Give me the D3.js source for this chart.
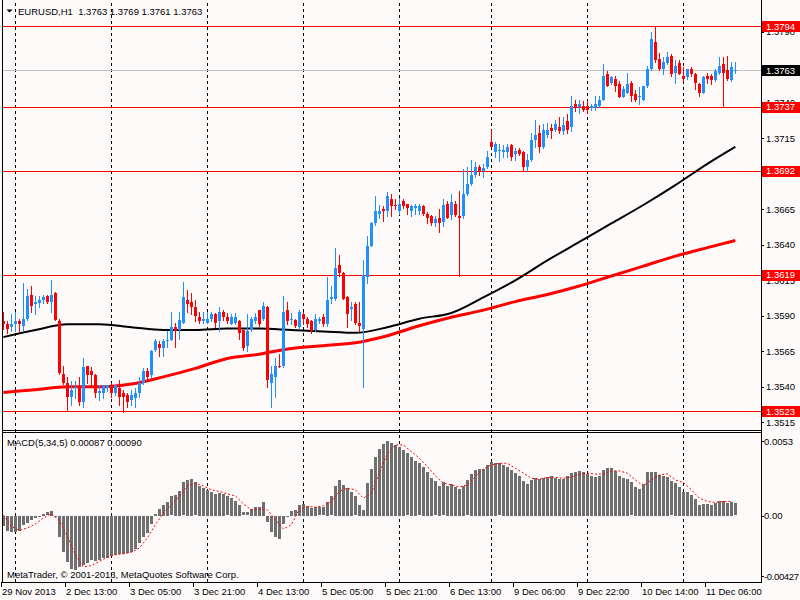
<!DOCTYPE html>
<html>
<head>
<meta charset="utf-8">
<script src="https://cdn.jsdelivr.net/npm/d3@7"></script>
<style>
  body { margin: 0; background: #fffafa; }
  svg { display: block; font-family: "Liberation Sans", Arial, sans-serif; font-size: 9.5px; }
</style>
</head>
<body>
<svg id="chart" width="800" height="600"></svg>
<script>
// EURUSD H1, 29 Nov 2013 21:00 .. 11 Dec 2013 13:00 (184 bars)
var opens = [1.3586,1.3584,1.3582,1.3584,1.3586,1.3583,1.3588,1.3605,1.3598,1.3599,
  1.3601,1.3604,1.3600,1.3606,1.3586,1.3549,1.3543,1.3533,1.3539,1.3539,
  1.3529,1.3555,1.3551,1.3548,1.3536,1.3536,1.3539,1.3541,1.3536,1.3539,
  1.3536,1.3534,1.3531,1.3532,1.3536,1.3543,1.3551,1.3548,1.3566,1.3570,
  1.3567,1.3572,1.3573,1.3582,1.3580,1.3585,1.3601,1.3600,1.3596,1.3589,
  1.3586,1.3585,1.3588,1.3591,1.3586,1.3593,1.3589,1.3584,1.3585,1.3586,
  1.3580,1.3569,1.3580,1.3586,1.3594,1.3588,1.3596,1.3543,1.3547,1.3555,
  1.3555,1.3594,1.3587,1.3587,1.3582,1.3591,1.3588,1.3586,1.3580,1.3586,
  1.3589,1.3584,1.3602,1.3602,1.3626,1.3620,1.3603,1.3595,1.3598,1.3585,
  1.3581,1.3617,1.3639,1.3655,1.3662,1.3665,1.3664,1.3672,1.3668,1.3664,
  1.3671,1.3669,1.3664,1.3666,1.3664,1.3667,1.3662,1.3660,1.3655,1.3659,
  1.3656,1.3669,1.3661,1.3669,1.3660,1.3660,1.3676,1.3683,1.3689,1.3695,
  1.3692,1.3695,1.3712,1.3705,1.3706,1.3705,1.3705,1.3710,1.3704,1.3707,
  1.3705,1.3695,1.3700,1.3714,1.3719,1.3709,1.3717,1.3722,1.3721,1.3723,
  1.3720,1.3727,1.3723,1.3739,1.3737,1.3738,1.3738,1.3736,1.3736,1.3738,
  1.3742,1.3760,1.3754,1.3757,1.3753,1.3744,1.3747,1.3754,1.3746,1.3744,
  1.3742,1.3752,1.3764,1.3783,1.3771,1.3764,1.3768,1.3773,1.3761,1.3768,
  1.3759,1.3758,1.3764,1.3760,1.3753,1.3747,1.3759,1.3759,1.3756,1.3761,
  1.3767,1.3763,1.3756,1.3763];
var highs = [1.3593,1.3586,1.3591,1.3593,1.3588,1.3613,1.3609,1.3611,1.3604,1.3604,
  1.3605,1.3605,1.3615,1.3607,1.3588,1.3555,1.3547,1.3544,1.3544,1.3547,
  1.3560,1.3555,1.3554,1.3549,1.3541,1.3541,1.3541,1.3543,1.3541,1.3545,
  1.3538,1.3536,1.3538,1.3539,1.3547,1.3553,1.3553,1.3566,1.3574,1.3572,
  1.3574,1.3579,1.3593,1.3585,1.3593,1.3614,1.3608,1.3606,1.3601,1.3593,
  1.3593,1.3593,1.3593,1.3592,1.3596,1.3594,1.3592,1.3591,1.3592,1.3587,
  1.3580,1.3591,1.3589,1.3592,1.3594,1.3600,1.3597,1.3555,1.3560,1.3563,
  1.3604,1.3600,1.3592,1.3588,1.3594,1.3593,1.3589,1.3587,1.3591,1.3589,
  1.3591,1.3617,1.3611,1.3638,1.3633,1.3621,1.3604,1.3600,1.3600,1.3600,
  1.3629,1.3646,1.3656,1.3674,1.3668,1.3667,1.3677,1.3676,1.3672,1.3673,
  1.3672,1.3669,1.3668,1.3669,1.3669,1.3668,1.3663,1.3661,1.3660,1.3665,
  1.3672,1.3671,1.3676,1.3671,1.3678,1.3693,1.3695,1.3700,1.3698,1.3696,
  1.3697,1.3706,1.3721,1.3712,1.3711,1.3710,1.3711,1.3711,1.3708,1.3708,
  1.3706,1.3704,1.3719,1.3728,1.3724,1.3725,1.3726,1.3725,1.3728,1.3730,
  1.3730,1.3732,1.3745,1.3742,1.3742,1.3741,1.3741,1.3739,1.3745,1.3745,
  1.3767,1.3762,1.3759,1.3759,1.3755,1.3752,1.3761,1.3755,1.3749,1.3751,
  1.3752,1.3766,1.3790,1.3794,1.3775,1.3772,1.3776,1.3774,1.3770,1.3770,
  1.3765,1.3764,1.3765,1.3761,1.3754,1.3759,1.3761,1.3760,1.3764,1.3772,
  1.3772,1.3773,1.3769,1.3769];
var lows = [1.3581,1.3578,1.3579,1.3579,1.3579,1.3580,1.3587,1.3593,1.3591,1.3596,
  1.3599,1.3599,1.3593,1.3587,1.3549,1.3542,1.3524,1.3527,1.3532,1.3527,
  1.3526,1.3543,1.3540,1.3533,1.3531,1.3532,1.3537,1.3533,1.3534,1.3527,
  1.3522,1.3526,1.3527,1.3526,1.3533,1.3542,1.3544,1.3546,1.3565,1.3562,
  1.3562,1.3568,1.3573,1.3568,1.3574,1.3585,1.3593,1.3591,1.3586,1.3585,
  1.3585,1.3585,1.3586,1.3582,1.3579,1.3587,1.3585,1.3584,1.3584,1.3574,
  1.3566,1.3565,1.3579,1.3585,1.3583,1.3587,1.3540,1.3526,1.3533,1.3554,
  1.3554,1.3584,1.3584,1.3582,1.3581,1.3584,1.3582,1.3578,1.3579,1.3585,
  1.3583,1.3583,1.3599,1.3601,1.3618,1.3602,1.3582,1.3587,1.3584,1.3579,
  1.3540,1.3613,1.3639,1.3654,1.3659,1.3657,1.3660,1.3660,1.3665,1.3662,
  1.3666,1.3662,1.3660,1.3662,1.3662,1.3661,1.3655,1.3654,1.3653,1.3649,
  1.3653,1.3659,1.3658,1.3660,1.3618,1.3659,1.3675,1.3682,1.3688,1.3689,
  1.3688,1.3694,1.3709,1.3702,1.3699,1.3702,1.3702,1.3700,1.3700,1.3703,
  1.3692,1.3692,1.3699,1.3709,1.3705,1.3708,1.3716,1.3715,1.3720,1.3719,
  1.3718,1.3719,1.3720,1.3734,1.3733,1.3734,1.3733,1.3735,1.3735,1.3737,
  1.3742,1.3752,1.3753,1.3748,1.3744,1.3744,1.3747,1.3741,1.3741,1.3739,
  1.3742,1.3751,1.3763,1.3769,1.3763,1.3760,1.3767,1.3759,1.3754,1.3760,
  1.3755,1.3757,1.3759,1.3750,1.3745,1.3747,1.3754,1.3753,1.3755,1.3760,
  1.3737,1.3756,1.3755,1.3761];
var closes = [1.3584,1.3581,1.3584,1.3586,1.3584,1.3588,1.3604,1.3597,1.3600,1.3601,
  1.3603,1.3600,1.3605,1.3587,1.3550,1.3543,1.3533,1.3538,1.3540,1.3529,
  1.3554,1.3548,1.3548,1.3536,1.3537,1.3541,1.3541,1.3536,1.3541,1.3533,
  1.3533,1.3529,1.3534,1.3536,1.3543,1.3551,1.3547,1.3565,1.3572,1.3567,
  1.3572,1.3573,1.3582,1.3579,1.3587,1.3603,1.3598,1.3596,1.3590,1.3586,
  1.3588,1.3588,1.3591,1.3585,1.3593,1.3589,1.3586,1.3589,1.3589,1.3578,
  1.3567,1.3579,1.3588,1.3589,1.3584,1.3597,1.3545,1.3549,1.3555,1.3554,
  1.3593,1.3586,1.3588,1.3583,1.3593,1.3588,1.3584,1.3579,1.3588,1.3588,
  1.3584,1.3601,1.3603,1.3624,1.3620,1.3602,1.3591,1.3596,1.3585,1.3583,
  1.3619,1.3639,1.3655,1.3664,1.3664,1.3664,1.3674,1.3667,1.3667,1.3669,
  1.3667,1.3666,1.3667,1.3667,1.3667,1.3662,1.3659,1.3655,1.3658,1.3655,
  1.3668,1.3659,1.3670,1.3661,1.3659,1.3676,1.3683,1.3689,1.3695,1.3692,
  1.3694,1.3702,1.3709,1.3711,1.3707,1.3707,1.3709,1.3702,1.3706,1.3704,
  1.3695,1.3700,1.3714,1.3717,1.3709,1.3721,1.3721,1.3720,1.3725,1.3720,
  1.3724,1.3721,1.3738,1.3737,1.3739,1.3735,1.3735,1.3738,1.3739,1.3742,
  1.3759,1.3752,1.3758,1.3752,1.3744,1.3750,1.3753,1.3745,1.3742,1.3745,
  1.3752,1.3764,1.3785,1.3770,1.3764,1.3769,1.3772,1.3760,1.3766,1.3760,
  1.3757,1.3764,1.3760,1.3754,1.3747,1.3758,1.3757,1.3756,1.3762,1.3766,
  1.3761,1.3757,1.3765,1.3763];

// moving averages, read every 8 bars
var maBars = [0,8,16,24,32,40,48,56,64,72,80,88,96,104,112,120,128,136,144,152,160,168,176,183];
var maBlack = [1.3575,1.3580,1.3584,1.3584,1.3582,1.3580,1.3580,1.3581,1.3581,1.3580,1.3579,1.3578,
  1.3582,1.3588,1.3592,1.3603,1.3615,1.3629,1.3642,1.3655,1.3668,1.3682,1.3697,1.3709];
var maRed = [1.3536,1.3538,1.3540,1.3540,1.3542,1.3547,1.3553,1.3560,1.3563,1.3567,1.3569,1.3571,
  1.3576,1.3583,1.3589,1.3594,1.3600,1.3605,1.3611,1.3618,1.3625,1.3632,1.3638,1.3643];

// MACD(5,34,5) histogram, one per bar
var macd = [-0.00071,-0.00104,-0.00111,-0.00111,-0.00104,-0.00064,-0.00047,-0.00028,-0.00016,-0.00005,
  0.00014,0.00024,0.00033,-0.00009,-0.00146,-0.00252,-0.00323,-0.00377,-0.00382,-0.00358,
  -0.00346,-0.00330,-0.00311,-0.00318,-0.00311,-0.00299,-0.00295,-0.00287,-0.00276,-0.00271,
  -0.00269,-0.00264,-0.00252,-0.00236,-0.00193,-0.00151,-0.00123,-0.00057,0.00014,0.00047,
  0.00078,0.00101,0.00137,0.00148,0.00177,0.00236,0.00254,0.00259,0.00236,0.00212,
  0.00196,0.00184,0.00172,0.00153,0.00160,0.00153,0.00137,0.00125,0.00108,0.00078,
  0.00024,0.00024,0.00047,0.00061,0.00061,0.00101,-0.00040,-0.00111,-0.00146,-0.00160,
  -0.00057,-0.00005,0.00035,0.00042,0.00078,0.00085,0.00071,0.00054,0.00061,0.00059,
  0.00059,0.00101,0.00137,0.00212,0.00254,0.00219,0.00196,0.00172,0.00137,0.00078,
  0.00042,0.00231,0.00330,0.00419,0.00474,0.00509,0.00530,0.00518,0.00502,0.00490,
  0.00467,0.00443,0.00419,0.00391,0.00372,0.00344,0.00309,0.00266,0.00243,0.00212,
  0.00236,0.00212,0.00226,0.00207,0.00188,0.00212,0.00250,0.00295,0.00325,0.00332,
  0.00332,0.00360,0.00384,0.00377,0.00372,0.00360,0.00344,0.00325,0.00306,0.00283,
  0.00247,0.00226,0.00254,0.00266,0.00259,0.00266,0.00278,0.00283,0.00266,0.00259,
  0.00259,0.00283,0.00302,0.00313,0.00318,0.00313,0.00297,0.00283,0.00278,0.00283,
  0.00325,0.00337,0.00337,0.00320,0.00283,0.00266,0.00259,0.00236,0.00203,0.00188,
  0.00226,0.00309,0.00313,0.00313,0.00290,0.00283,0.00278,0.00243,0.00231,0.00203,
  0.00172,0.00172,0.00148,0.00120,0.00078,0.00085,0.00085,0.00078,0.00094,0.00108,
  0.00108,0.00090,0.00101,0.00087];
// signal line, read every 2 bars (bars 0,2,...,182)
var signal = [0.00007,-0.00075,-0.00104,-0.00087,-0.00059,-0.00016,0.00014,-0.00033,-0.00146,-0.00276,
  -0.00363,-0.00353,-0.00323,-0.00295,-0.00276,-0.00269,-0.00259,-0.00229,-0.00158,-0.00064,
  0.00019,0.00078,0.00137,0.00212,0.00231,0.00212,0.00184,0.00172,0.00155,0.00141,
  0.00085,0.00042,0.00047,0.00042,-0.00028,-0.00094,-0.00064,0.00047,0.00066,0.00061,
  0.00071,0.00101,0.00172,0.00196,0.00184,0.00125,0.00160,0.00302,0.00438,0.00502,
  0.00502,0.00455,0.00408,0.00349,0.00283,0.00231,0.00219,0.00203,0.00219,0.00278,
  0.00330,0.00360,0.00372,0.00372,0.00337,0.00302,0.00266,0.00259,0.00271,0.00273,
  0.00266,0.00273,0.00295,0.00302,0.00295,0.00295,0.00318,0.00318,0.00302,0.00254,
  0.00212,0.00254,0.00290,0.00297,0.00254,0.00236,0.00184,0.00125,0.00101,0.00094,
  0.00101,0.00101];

var levels = [1.3794, 1.3737, 1.3692, 1.3619, 1.3523];
var bid = 1.3763;
var priceTicks = [1.3515,1.3540,1.3565,1.3590,1.3615,1.3640,1.3665,1.3690,1.3715,1.3740,1.3765,1.3790];
var macdTicks = [0.0053, 0, -0.00427];
var macdTickLabels = ["0.0053", "0.00", "-0.00427"];
var timeBars = [0,16,32,48,64,80,96,112,128,144,160,176];
var timeLabels = ["29 Nov 2013","2 Dec 13:00","3 Dec 05:00","3 Dec 21:00","4 Dec 13:00","5 Dec 05:00",
  "5 Dec 21:00","6 Dec 13:00","9 Dec 06:00","9 Dec 22:00","10 Dec 14:00","11 Dec 06:00"];
var gridBars = [3,27,51,75,99,122,146,170];

var svg = d3.select('#chart');
var W = 800, axisX = 761, mainBottom = 430, subTop = 432, subBottom = 582;

var x = d3.scaleLinear().domain([0, 183]).range([3.33, 735.33]);
var y = d3.scaleLinear().domain([1.3523, 1.3794]).range([411, 26]);
var ym = d3.scaleLinear().domain([-0.00427, 0.0053]).range([576, 441]);
var px = function(i){ return Math.round(x(i)); };
var py = function(v){ return Math.round(y(v)); };

svg.append('rect').attr('width', W).attr('height', 600).attr('fill', '#fffafa');

// vertical grid
svg.append('g').selectAll('line').data(gridBars).enter().append('line')
  .attr('x1', function(d){ return px(d) + 0.5; }).attr('x2', function(d){ return px(d) + 0.5; })
  .attr('y1', 3).attr('y2', subBottom)
  .attr('stroke', '#000').attr('stroke-dasharray', '3,3').attr('shape-rendering', 'crispEdges');

// price axis ticks + labels (drawn before level boxes so boxes cover them)
var pa = svg.append('g');
pa.selectAll('rect').data(priceTicks).enter().append('rect')
  .attr('x', axisX).attr('width', 3).attr('y', function(d){ return py(d); }).attr('height', 1)
  .attr('fill', '#000');
pa.selectAll('text').data(priceTicks).enter().append('text')
  .attr('x', 766).attr('y', function(d){ return y(d) + 3.5; })
  .text(function(d){ return d.toFixed(4); });

// horizontal levels (1px filled strips)
svg.append('g').selectAll('rect').data(levels).enter().append('rect')
  .attr('x', 2).attr('width', axisX - 2).attr('y', function(d){ return py(d); }).attr('height', 1)
  .attr('fill', '#ff0000').attr('shape-rendering', 'crispEdges');
svg.append('rect').attr('x', 2).attr('width', axisX - 2).attr('y', py(bid)).attr('height', 1)
  .attr('fill', '#c0c0c0').attr('shape-rendering', 'crispEdges');

// moving averages
var maLine = function(vals){
  return d3.line().x(function(d, i){ return x(maBars[i]); }).y(function(d){ return y(d); })
    .curve(d3.curveMonotoneX)(vals);
};
svg.append('path').attr('d', maLine(maRed)).attr('fill', 'none').attr('stroke', '#ff0000').attr('stroke-width', 3);
svg.append('path').attr('d', maLine(maBlack)).attr('fill', 'none').attr('stroke', '#000').attr('stroke-width', 2);

// candles
var bars = d3.range(opens.length);
var col = function(i){ return closes[i] >= opens[i] ? '#1e90ff' : '#ff0000'; };
var cg = svg.append('g').attr('shape-rendering', 'crispEdges');
cg.selectAll('rect.wick').data(bars).enter().append('rect').attr('class', 'wick')
  .attr('x', function(i){ return px(i); }).attr('width', 1)
  .attr('y', function(i){ return py(highs[i]); })
  .attr('height', function(i){ return py(lows[i]) - py(highs[i]) + 1; })
  .attr('fill', col);
cg.selectAll('rect.body').data(bars).enter().append('rect').attr('class', 'body')
  .attr('x', function(i){ return px(i) - 1; }).attr('width', 3)
  .attr('y', function(i){ return py(Math.max(opens[i], closes[i])); })
  .attr('height', function(i){
    return Math.max(1, py(Math.min(opens[i], closes[i])) - py(Math.max(opens[i], closes[i])));
  })
  .attr('fill', col);

// level price boxes
var lb = svg.append('g');
lb.selectAll('rect').data(levels).enter().append('rect')
  .attr('x', 762).attr('width', 38).attr('y', function(d){ return py(d) - 5; }).attr('height', 11)
  .attr('fill', '#ff0000');
lb.selectAll('text').data(levels).enter().append('text')
  .attr('x', 766).attr('y', function(d){ return y(d) + 3.5; }).attr('fill', '#fff')
  .text(function(d){ return d.toFixed(4); });
svg.append('rect').attr('x', 762).attr('width', 38).attr('y', py(bid) - 5).attr('height', 11).attr('fill', '#000');
svg.append('text').attr('x', 766).attr('y', y(bid) + 3.5).attr('fill', '#fff').text(bid.toFixed(4));

// MACD histogram
var mg = svg.append('g').attr('shape-rendering', 'crispEdges');
mg.selectAll('rect').data(bars).enter().append('rect')
  .attr('x', function(i){ return px(i) - 1; }).attr('width', 3)
  .attr('y', function(i){ return Math.round(Math.min(ym(0), ym(macd[i]))); })
  .attr('height', function(i){ return Math.max(1, Math.round(Math.abs(ym(macd[i]) - ym(0)))); })
  .attr('fill', '#6f6f6f');
svg.append('path')
  .attr('d', d3.line().x(function(d, i){ return x(i * 2); }).y(function(d){ return ym(d); })(signal))
  .attr('fill', 'none').attr('stroke', '#ff0000').attr('stroke-dasharray', '2,2');

// MACD axis
var ma = svg.append('g');
ma.selectAll('rect').data(macdTicks).enter().append('rect')
  .attr('x', axisX).attr('width', 3).attr('y', function(d){ return Math.round(ym(d)); }).attr('height', 1)
  .attr('fill', '#000');
ma.selectAll('text').data(macdTicks).enter().append('text')
  .attr('x', 764).attr('y', function(d){ return ym(d) + 3.5; })
  .attr('textLength', function(d, i){ return i === 2 ? 35 : null; })
  .text(function(d, i){ return macdTickLabels[i]; });

// frames
var fr = svg.append('g').attr('stroke', '#000').attr('shape-rendering', 'crispEdges');
fr.append('line').attr('x1', 2.5).attr('x2', 2.5).attr('y1', 0).attr('y2', subBottom);
fr.append('line').attr('x1', axisX + 0.5).attr('x2', axisX + 0.5).attr('y1', 0).attr('y2', subBottom);
fr.append('line').attr('x1', 2).attr('x2', axisX).attr('y1', mainBottom + 0.5).attr('y2', mainBottom + 0.5);
fr.append('line').attr('x1', 2).attr('x2', axisX).attr('y1', subTop + 0.5).attr('y2', subTop + 0.5);
fr.append('line').attr('x1', 2).attr('x2', axisX + 1).attr('y1', subBottom + 0.5).attr('y2', subBottom + 0.5);

// time axis
var ta = svg.append('g');
ta.selectAll('rect').data(timeBars).enter().append('rect')
  .attr('x', function(d){ return px(d) - 2; }).attr('width', 1)
  .attr('y', subBottom).attr('height', 5).attr('fill', '#000');
ta.selectAll('text').data(timeBars).enter().append('text')
  .attr('x', function(d){ return px(d) - 1; }).attr('y', 595)
  .text(function(d, i){ return timeLabels[i]; });

// titles
svg.append('path').attr('d', 'M6.5,9.5 L12.5,9.5 L9.5,12.5 Z').attr('fill', '#000');
svg.append('text').attr('x', 18).attr('y', 14.5)
  .text('EURUSD,H1\u00a0\u00a0' + [opens[183], highs[183], lows[183], closes[183]].map(function(v){ return v.toFixed(4); }).join(' '));
svg.append('text').attr('x', 7).attr('y', 446)
  .text('MACD(5,34,5) ' + macd[183].toFixed(5) + ' 0.00090');
svg.append('text').attr('x', 7).attr('y', 578)
  .text('MetaTrader, \u00a9 2001-2013, MetaQuotes Software Corp.');
</script>
</body>
</html>
